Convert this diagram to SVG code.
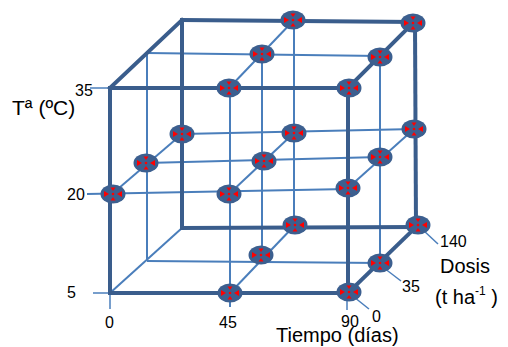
<svg xmlns="http://www.w3.org/2000/svg" width="508" height="347" viewBox="0 0 508 347">
<style>
.thick{stroke:#3a5d8c;stroke-width:4;fill:none;stroke-linecap:square}
.thin{stroke:#4a7ebb;stroke-width:2;fill:none}
.tick{stroke:#4a7ebb;stroke-width:1.5;fill:none}
text{font-family:"Liberation Sans",Arial,sans-serif;fill:#000}
.s{font-size:16px}
.l{font-size:20px}
</style>
<defs>
<g id="pt">
<ellipse cx="0" cy="0" rx="12.5" ry="9.5" fill="#3c5f8f"/>
<polygon points="-9,-3 -9,3 -4,0" fill="#ff0000"/>
<polygon points="9,-3 9,3 4,0" fill="#ff0000"/>
<polygon points="-2.5,-6.5 2.5,-6.5 0,-3" fill="#ff0000"/>
<polygon points="-2.5,6.5 2.5,6.5 0,3" fill="#ff0000"/>
<circle cx="0" cy="0" r="1.3" fill="#ff0000"/>
</g>
</defs>
<g id="connectors">
<!-- thin grid lines -->
<line class="thin" x1="147" y1="53" x2="380" y2="56"/>
<line class="thin" x1="147" y1="53" x2="147" y2="261"/>
<line class="thin" x1="147" y1="261" x2="380" y2="263"/>
<line class="thin" x1="380" y1="56" x2="380" y2="263"/>
<line class="thin" x1="230" y1="88" x2="230" y2="307"/>
<line class="thin" x1="262" y1="54" x2="262" y2="255"/>
<line class="thin" x1="294" y1="20" x2="294" y2="225"/>
<line class="thin" x1="229" y1="88" x2="294" y2="20"/>
<line class="thin" x1="87" y1="194" x2="348" y2="189"/>
<line class="thin" x1="146" y1="163" x2="380" y2="157"/>
<line class="thin" x1="182" y1="134" x2="415" y2="129"/>
<line class="thin" x1="112" y1="194" x2="182" y2="134"/>
<line class="thin" x1="229" y1="194" x2="294" y2="133"/>
<line class="thin" x1="348" y1="188" x2="414" y2="129"/>
<line class="thin" x1="110" y1="293" x2="182" y2="228"/>
<line class="thin" x1="230" y1="293" x2="295" y2="225"/>
<!-- ticks -->
<line class="tick" x1="90" y1="88" x2="110" y2="88"/>
<line class="tick" x1="93" y1="293" x2="110" y2="293"/>
<line class="tick" x1="110" y1="293" x2="110" y2="309"/>
<line class="tick" x1="347" y1="293" x2="347" y2="310"/>
<line class="tick" x1="354" y1="297" x2="369" y2="309"/>
<line class="tick" x1="384" y1="268" x2="401" y2="281"/>
<line class="tick" x1="423" y1="230" x2="438" y2="244"/>
<!-- thick cube edges -->
<line class="thick" x1="182" y1="20" x2="414" y2="22"/>
<line class="thick" x1="182" y1="20" x2="182" y2="228"/>
<line class="thick" x1="182" y1="228" x2="416" y2="227"/>
<line class="thick" x1="415" y1="22" x2="416" y2="227"/>
<line class="thick" x1="110" y1="88" x2="182" y2="20"/>
<line class="thick" x1="348" y1="88" x2="414" y2="22"/>
<line class="thick" x1="348" y1="293" x2="416" y2="227"/>
<line class="thick" x1="110" y1="88" x2="348" y2="88"/>
<line class="thick" x1="110" y1="88" x2="110" y2="293"/>
<line class="thick" x1="110" y1="293" x2="348" y2="293"/>
<line class="thick" x1="348" y1="88" x2="348" y2="293"/>
</g>
<g id="nodes">
<g id="n1"><use href="#pt" x="229" y="88"/></g>
<g id="n2"><use href="#pt" x="349" y="88"/></g>
<g id="n3"><use href="#pt" x="262" y="54"/></g>
<g id="n4"><use href="#pt" x="380" y="57"/></g>
<g id="n5"><use href="#pt" x="293" y="20"/></g>
<g id="n6"><use href="#pt" x="413" y="23"/></g>
<g id="n7"><use href="#pt" x="113" y="194"/></g>
<g id="n8"><use href="#pt" x="229" y="194"/></g>
<g id="n9"><use href="#pt" x="348" y="188"/></g>
<g id="n10"><use href="#pt" x="146" y="163"/></g>
<g id="n11"><use href="#pt" x="264" y="161"/></g>
<g id="n12"><use href="#pt" x="380" y="157"/></g>
<g id="n13"><use href="#pt" x="182" y="134"/></g>
<g id="n14"><use href="#pt" x="294" y="133"/></g>
<g id="n15"><use href="#pt" x="414" y="129"/></g>
<g id="n16"><use href="#pt" x="230" y="293"/></g>
<g id="n17"><use href="#pt" x="349" y="292"/></g>
<g id="n18"><use href="#pt" x="261" y="255"/></g>
<g id="n19"><use href="#pt" x="380" y="263"/></g>
<g id="n20"><use href="#pt" x="295" y="225"/></g>
<g id="n21"><use href="#pt" x="418" y="225"/></g>
</g>
<g id="labels">
<text class="s" x="75" y="96">35</text>
<text class="s" x="67" y="200">20</text>
<text class="s" x="67" y="298">5</text>
<text class="s" x="105" y="328">0</text>
<text class="s" x="219" y="328">45</text>
<text class="s" x="341" y="327">90</text>
<text class="s" x="372" y="322">0</text>
<text class="s" x="402" y="292">35</text>
<text class="s" x="440" y="247">140</text>
<text style="font-size:21px" x="12" y="115">Tª (ºC)</text>
<text class="l" x="440" y="273">Dosis</text>
<text class="l" x="435" y="304">(t ha<tspan font-size="12" dy="-9">-1</tspan><tspan dy="9"> )</tspan></text>
<text class="l" x="276" y="342">Tiempo (días)</text>
</g>
</svg>
